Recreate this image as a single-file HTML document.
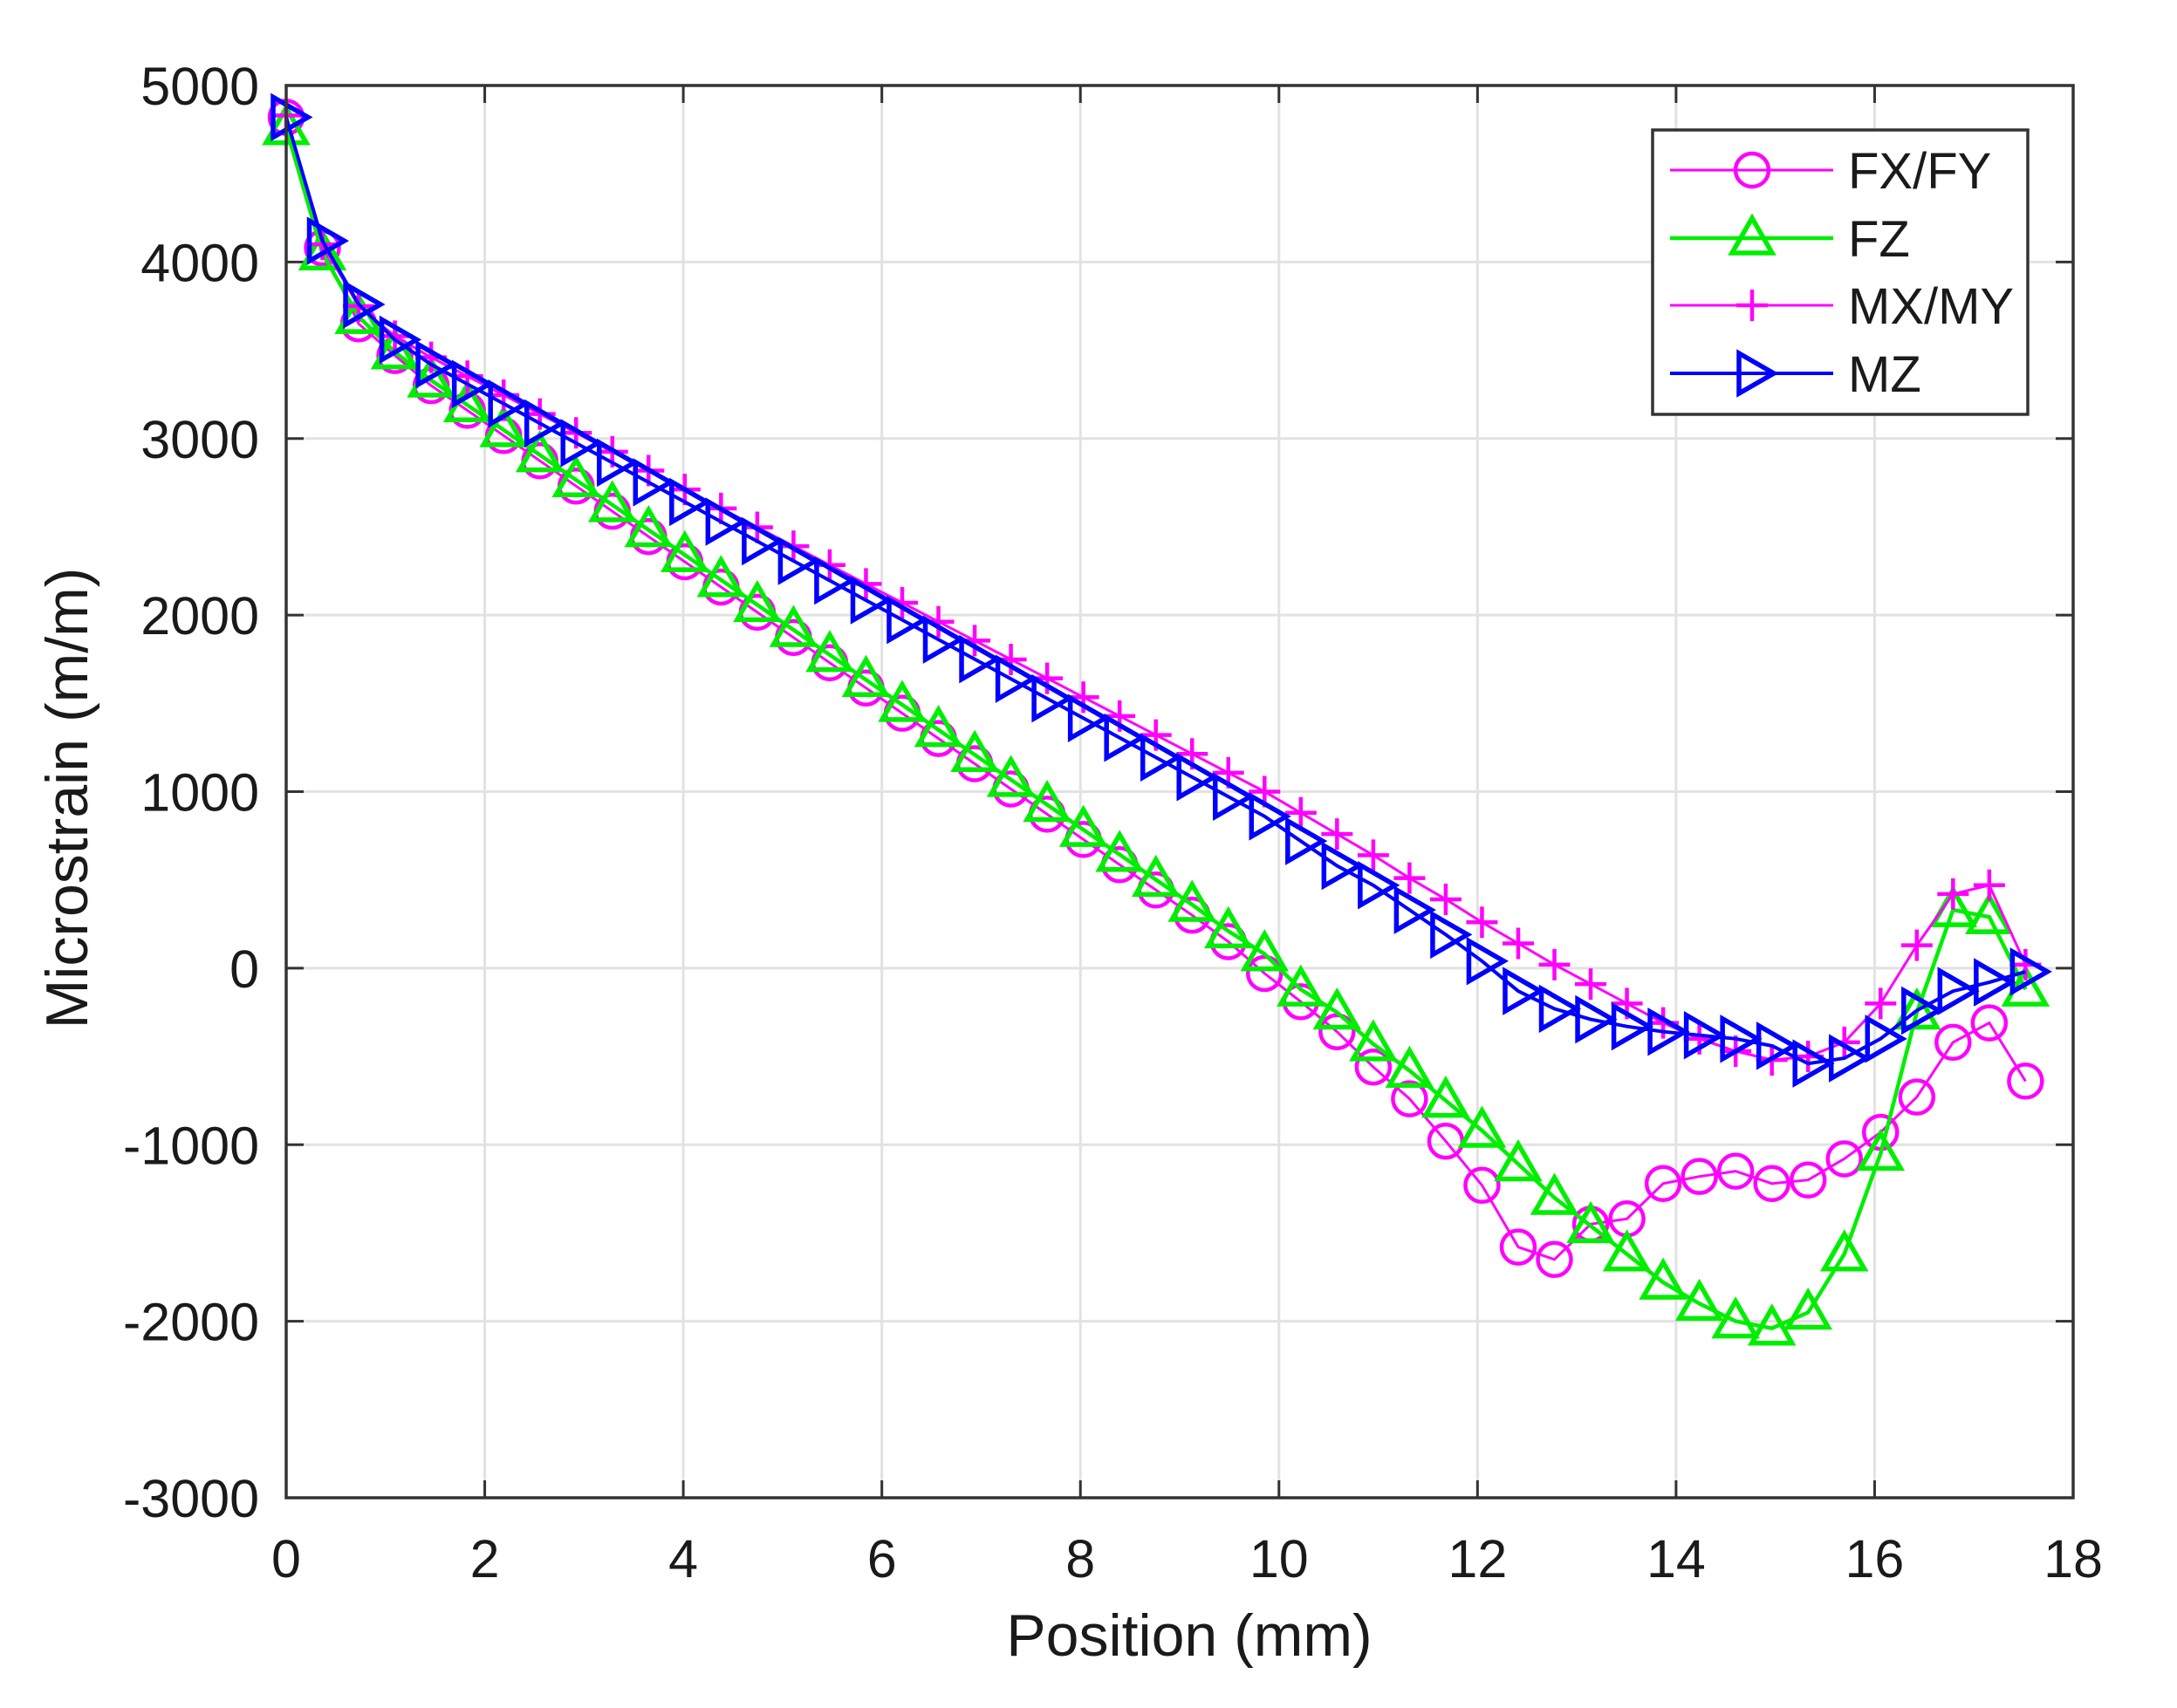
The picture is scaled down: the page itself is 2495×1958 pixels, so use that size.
<!DOCTYPE html>
<html><head><meta charset="utf-8"><style>
html,body{margin:0;padding:0;background:#fff;}
svg{display:block;}
text{font-family:"Liberation Sans",Arial,sans-serif;fill:#1a1a1a;}
</style></head><body>
<svg id="c" width="2495" height="1958" viewBox="0 0 2495 1958" xmlns="http://www.w3.org/2000/svg"></svg>
<script>
const L=328,R=2376,T=98,B=1717;
const X=v=>L+(v/18)*(R-L), Y=v=>T+(5000-v)/8000*(B-T);
let s='';
for(let i=0;i<=18;i+=2){const x=X(i);s+=`<line x1="${x}" y1="${T}" x2="${x}" y2="${B}" stroke="#e2e2e2" stroke-width="3"/>`;}
for(let v=-3000;v<=5000;v+=1000){const y=Y(v);s+=`<line x1="${L}" y1="${y}" x2="${R}" y2="${y}" stroke="#e2e2e2" stroke-width="3"/>`;}
for(let i=0;i<=18;i+=2){const x=X(i);s+=`<line x1="${x}" y1="${B}" x2="${x}" y2="${B-20}" stroke="#333" stroke-width="3"/><line x1="${x}" y1="${T}" x2="${x}" y2="${T+20}" stroke="#333" stroke-width="3"/>`;
s+=`<text x="${x}" y="1808" font-size="61" text-anchor="middle">${i}</text>`;}
for(let v=-3000;v<=5000;v+=1000){const y=Y(v);s+=`<line x1="${L}" y1="${y}" x2="${L+20}" y2="${y}" stroke="#333" stroke-width="3"/><line x1="${R}" y1="${y}" x2="${R-20}" y2="${y}" stroke="#333" stroke-width="3"/>`;
s+=`<text x="297" y="${y+22}" font-size="61" text-anchor="end">${v}</text>`;}
s+=`<text x="1363" y="1898" font-size="68" text-anchor="middle">Position (mm)</text>`;
s+=`<text transform="translate(100,915) rotate(-90)" font-size="68" text-anchor="middle">Microstrain (m/m)</text>`;
function lin(a,b,n){return Array.from({length:n},(_,k)=>a+(b-a)*k/(n-1));}
const fx=[4820,4080,3650,3470,3300].concat(lin(3160,300,21)).concat([150,-30,-190,-360,-560,-740,-980,-1230,-1580,-1650,-1450,-1420,-1220,-1180,-1150,-1220,-1200,-1080,-930,-730,-420,-310,-640]);
const fz=[4760,4050,3690,3490,3330].concat(lin(3190,360,21)).concat([210,80,-120,-250,-430,-580,-750,-920,-1110,-1300,-1460,-1620,-1780,-1900,-2000,-2040,-1950,-1620,-1050,-250,330,290,-120]);
const mx=[4830,4100,3750,3580].concat(lin(3460,1000,24)).concat([880,760,640,510,390,260,140,20,-90,-200,-310,-400,-470,-520,-500,-420,-200,130,420,470,20]);
const mz=[4820,4120,3760,3560].concat(lin(3420,860,24)).concat([720,580,470,330,190,40,-130,-230,-290,-330,-360,-380,-400,-440,-540,-510,-400,-240,-130,-80,-20]);
const step=0.365;
function path(d,c,w){return `<polyline fill="none" stroke="${c}" stroke-width="${w}" points="${d.map((v,i)=>X(i*step).toFixed(1)+','+Y(v).toFixed(1)).join(' ')}"/>`;}
function circ(x,y,c){return `<circle cx="${x}" cy="${y}" r="19" fill="none" stroke="${c}" stroke-width="4.5"/>`;}
function tri(x,y,c){return `<polygon points="${x},${y-23} ${x-23},${y+17} ${x+23},${y+17}" fill="none" stroke="${c}" stroke-width="5.5"/>`;}
function plus(x,y,c){return `<path d="M${x-18},${y}H${x+18}M${x},${y-18}V${y+18}" stroke="${c}" stroke-width="4.5"/>`;}
function rtri(x,y,c){return `<polygon points="${x-15},${y-23} ${x+25},${y} ${x-15},${y+23}" fill="none" stroke="${c}" stroke-width="5.5"/>`;}
const series=[[fx,'#ff00ff',3,circ],[fz,'#00ee00',4.5,tri],[mx,'#ff00ff',3,plus],[mz,'#0000ff',4,rtri]];
for(const [d,c,w,m] of series){s+=path(d,c,w);d.forEach((v,i)=>{s+=m(X(i*step),Y(v),c);});}
s+=`<rect x="${L}" y="${T}" width="${R-L}" height="${B-T}" fill="none" stroke="#333" stroke-width="3.5"/>`;
s+=`<rect x="1894" y="149" width="430" height="326" fill="#fff" stroke="#333" stroke-width="3.5"/>`;
const names=['FX/FY','FZ','MX/MY','MZ'],ry=[195,273,350,428];
series.forEach(([d,c,w,m],k)=>{const y=ry[k];s+=`<line x1="1914" y1="${y}" x2="2101" y2="${y}" stroke="${c}" stroke-width="${w}"/>`+m(2008,y,c)+`<text x="2118" y="${y+21}" font-size="58">${names[k]}</text>`;});
document.getElementById('c').innerHTML=s;
</script>
</body></html>
